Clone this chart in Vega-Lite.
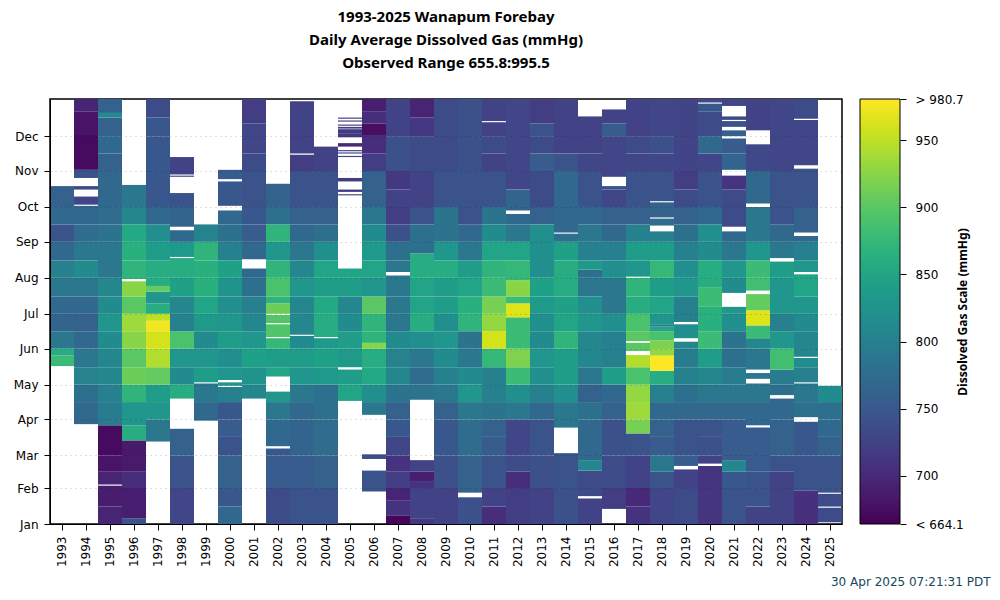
{"$schema":"https://vega.github.io/schema/vega-lite/v6.json","width":792,"height":425,"autosize":"none","padding":{"left":50,"top":99,"right":158,"bottom":76},"background":"white","title":{"text":["1993-2025 Wanapum Forebay","Daily Average Dissolved Gas (mmHg)","Observed Range 655.8:995.5"],"font":"Noto Sans","fontSize":15,"fontWeight":"bold","lineHeight":23,"anchor":"middle","offset":22,"color":"black"},"config":{"view":{"stroke":"black","strokeWidth":1.5},"font":"DejaVu Sans"},"data":{"values":[
{"yr":1993,"a":136,"b":145,"v":880},{"yr":1993,"a":145,"b":151,"v":860},{"yr":1993,"a":151,"b":166,"v":790},{"yr":1993,"a":166,"b":181,"v":765},{"yr":1993,"a":181,"b":196,"v":770},{"yr":1993,"a":196,"b":212,"v":790},{"yr":1993,"a":212,"b":227,"v":800},{"yr":1993,"a":227,"b":243,"v":770},{"yr":1993,"a":243,"b":258,"v":745},{"yr":1993,"a":258,"b":273,"v":770},{"yr":1993,"a":273,"b":291,"v":760},
{"yr":1994,"a":86,"b":105,"v":770},{"yr":1994,"a":105,"b":120,"v":780},{"yr":1994,"a":120,"b":135,"v":805},{"yr":1994,"a":135,"b":151,"v":790},{"yr":1994,"a":151,"b":166,"v":770},{"yr":1994,"a":166,"b":181,"v":760},{"yr":1994,"a":181,"b":196,"v":770},{"yr":1994,"a":196,"b":212,"v":790},{"yr":1994,"a":212,"b":227,"v":815},{"yr":1994,"a":227,"b":243,"v":790},{"yr":1994,"a":243,"b":258,"v":775},{"yr":1994,"a":258,"b":274,"v":770},{"yr":1994,"a":275,"b":282,"v":730},{"yr":1994,"a":288,"b":291,"v":735},{"yr":1994,"a":298,"b":305,"v":745},{"yr":1994,"a":305,"b":335,"v":672},{"yr":1994,"a":335,"b":355,"v":680},{"yr":1994,"a":355,"b":366,"v":695},
{"yr":1995,"a":0,"b":15,"v":695},{"yr":1995,"a":15,"b":33,"v":688},{"yr":1995,"a":34,"b":45,"v":695},{"yr":1995,"a":45,"b":59,"v":680},{"yr":1995,"a":59,"b":85,"v":672},{"yr":1995,"a":85,"b":105,"v":795},{"yr":1995,"a":105,"b":120,"v":800},{"yr":1995,"a":120,"b":135,"v":810},{"yr":1995,"a":135,"b":151,"v":810},{"yr":1995,"a":151,"b":166,"v":815},{"yr":1995,"a":166,"b":181,"v":830},{"yr":1995,"a":181,"b":196,"v":815},{"yr":1995,"a":196,"b":212,"v":810},{"yr":1995,"a":212,"b":243,"v":790},{"yr":1995,"a":243,"b":258,"v":785},{"yr":1995,"a":258,"b":273,"v":775},{"yr":1995,"a":273,"b":304,"v":770},{"yr":1995,"a":304,"b":319,"v":760},{"yr":1995,"a":319,"b":334,"v":770},{"yr":1995,"a":334,"b":350,"v":760},{"yr":1995,"a":350,"b":354,"v":815},{"yr":1995,"a":354,"b":366,"v":760},
{"yr":1996,"a":0,"b":5,"v":745},{"yr":1996,"a":5,"b":31,"v":690},{"yr":1996,"a":31,"b":45,"v":705},{"yr":1996,"a":45,"b":72,"v":685},{"yr":1996,"a":72,"b":85,"v":860},{"yr":1996,"a":85,"b":105,"v":830},{"yr":1996,"a":105,"b":120,"v":870},{"yr":1996,"a":120,"b":135,"v":910},{"yr":1996,"a":135,"b":151,"v":900},{"yr":1996,"a":151,"b":166,"v":925},{"yr":1996,"a":166,"b":181,"v":935},{"yr":1996,"a":181,"b":196,"v":900},{"yr":1996,"a":196,"b":209,"v":925},{"yr":1996,"a":211,"b":227,"v":870},{"yr":1996,"a":227,"b":243,"v":865},{"yr":1996,"a":243,"b":258,"v":855},{"yr":1996,"a":258,"b":273,"v":810},{"yr":1996,"a":273,"b":292,"v":790},
{"yr":1997,"a":71,"b":90,"v":790},{"yr":1997,"a":90,"b":105,"v":830},{"yr":1997,"a":105,"b":120,"v":840},{"yr":1997,"a":120,"b":135,"v":905},{"yr":1997,"a":135,"b":151,"v":945},{"yr":1997,"a":151,"b":166,"v":960},{"yr":1997,"a":166,"b":175,"v":975},{"yr":1997,"a":175,"b":181,"v":950},{"yr":1997,"a":181,"b":190,"v":860},{"yr":1997,"a":190,"b":200,"v":830},{"yr":1997,"a":200,"b":205,"v":905},{"yr":1997,"a":205,"b":212,"v":860},{"yr":1997,"a":212,"b":227,"v":860},{"yr":1997,"a":227,"b":243,"v":840},{"yr":1997,"a":243,"b":258,"v":820},{"yr":1997,"a":258,"b":273,"v":770},{"yr":1997,"a":273,"b":334,"v":750},{"yr":1997,"a":334,"b":350,"v":750},{"yr":1997,"a":350,"b":366,"v":735},
{"yr":1998,"a":0,"b":31,"v":730},{"yr":1998,"a":31,"b":59,"v":745},{"yr":1998,"a":59,"b":82,"v":760},{"yr":1998,"a":108,"b":120,"v":860},{"yr":1998,"a":120,"b":135,"v":815},{"yr":1998,"a":135,"b":151,"v":830},{"yr":1998,"a":151,"b":166,"v":890},{"yr":1998,"a":166,"b":181,"v":800},{"yr":1998,"a":181,"b":196,"v":810},{"yr":1998,"a":196,"b":212,"v":845},{"yr":1998,"a":212,"b":229,"v":860},{"yr":1998,"a":230,"b":243,"v":835},{"yr":1998,"a":243,"b":253,"v":770},{"yr":1998,"a":256,"b":273,"v":765},{"yr":1998,"a":273,"b":285,"v":745},{"yr":1998,"a":299,"b":300,"v":735},{"yr":1998,"a":301,"b":316,"v":725},
{"yr":1999,"a":89,"b":105,"v":770},{"yr":1999,"a":105,"b":121,"v":790},{"yr":1999,"a":122,"b":135,"v":840},{"yr":1999,"a":135,"b":151,"v":830},{"yr":1999,"a":151,"b":166,"v":815},{"yr":1999,"a":166,"b":181,"v":835},{"yr":1999,"a":181,"b":196,"v":850},{"yr":1999,"a":196,"b":212,"v":865},{"yr":1999,"a":212,"b":227,"v":865},{"yr":1999,"a":227,"b":243,"v":870},{"yr":1999,"a":243,"b":258,"v":805},
{"yr":2000,"a":0,"b":15,"v":770},{"yr":2000,"a":15,"b":31,"v":750},{"yr":2000,"a":31,"b":59,"v":760},{"yr":2000,"a":59,"b":75,"v":745},{"yr":2000,"a":75,"b":90,"v":755},{"yr":2000,"a":90,"b":105,"v":750},{"yr":2000,"a":105,"b":118,"v":800},{"yr":2000,"a":119,"b":122,"v":830},{"yr":2000,"a":124,"b":135,"v":830},{"yr":2000,"a":135,"b":151,"v":820},{"yr":2000,"a":151,"b":166,"v":840},{"yr":2000,"a":166,"b":181,"v":830},{"yr":2000,"a":181,"b":196,"v":820},{"yr":2000,"a":196,"b":212,"v":825},{"yr":2000,"a":212,"b":227,"v":845},{"yr":2000,"a":227,"b":243,"v":800},{"yr":2000,"a":243,"b":258,"v":780},{"yr":2000,"a":258,"b":270,"v":770},{"yr":2000,"a":274,"b":295,"v":750},{"yr":2000,"a":297,"b":305,"v":755},
{"yr":2001,"a":108,"b":120,"v":810},{"yr":2001,"a":120,"b":135,"v":825},{"yr":2001,"a":135,"b":151,"v":845},{"yr":2001,"a":151,"b":166,"v":830},{"yr":2001,"a":166,"b":181,"v":810},{"yr":2001,"a":181,"b":196,"v":800},{"yr":2001,"a":196,"b":212,"v":780},{"yr":2001,"a":212,"b":220,"v":770},{"yr":2001,"a":228,"b":243,"v":770},{"yr":2001,"a":243,"b":258,"v":755},{"yr":2001,"a":258,"b":273,"v":750},{"yr":2001,"a":273,"b":304,"v":745},{"yr":2001,"a":304,"b":319,"v":735},{"yr":2001,"a":319,"b":345,"v":730},{"yr":2001,"a":345,"b":366,"v":720},
{"yr":2002,"a":0,"b":31,"v":735},{"yr":2002,"a":31,"b":59,"v":755},{"yr":2002,"a":59,"b":65,"v":750},{"yr":2002,"a":67,"b":90,"v":770},{"yr":2002,"a":90,"b":105,"v":790},{"yr":2002,"a":105,"b":114,"v":830},{"yr":2002,"a":127,"b":135,"v":850},{"yr":2002,"a":135,"b":151,"v":840},{"yr":2002,"a":151,"b":160,"v":875},{"yr":2002,"a":161,"b":172,"v":895},{"yr":2002,"a":173,"b":180,"v":895},{"yr":2002,"a":181,"b":190,"v":910},{"yr":2002,"a":190,"b":196,"v":870},{"yr":2002,"a":196,"b":212,"v":890},{"yr":2002,"a":212,"b":227,"v":870},{"yr":2002,"a":227,"b":243,"v":830},{"yr":2002,"a":243,"b":258,"v":870},{"yr":2002,"a":258,"b":273,"v":780},{"yr":2002,"a":273,"b":293,"v":760},
{"yr":2003,"a":0,"b":31,"v":745},{"yr":2003,"a":31,"b":59,"v":755},{"yr":2003,"a":59,"b":90,"v":765},{"yr":2003,"a":90,"b":105,"v":770},{"yr":2003,"a":105,"b":120,"v":790},{"yr":2003,"a":120,"b":135,"v":830},{"yr":2003,"a":135,"b":151,"v":840},{"yr":2003,"a":151,"b":162,"v":815},{"yr":2003,"a":163,"b":181,"v":810},{"yr":2003,"a":181,"b":196,"v":810},{"yr":2003,"a":196,"b":212,"v":830},{"yr":2003,"a":212,"b":227,"v":810},{"yr":2003,"a":227,"b":243,"v":790},{"yr":2003,"a":243,"b":258,"v":770},{"yr":2003,"a":258,"b":273,"v":760},{"yr":2003,"a":273,"b":304,"v":745},{"yr":2003,"a":304,"b":318,"v":720},{"yr":2003,"a":319,"b":364,"v":725},
{"yr":2004,"a":0,"b":31,"v":745},{"yr":2004,"a":31,"b":59,"v":760},{"yr":2004,"a":59,"b":90,"v":775},{"yr":2004,"a":90,"b":120,"v":780},{"yr":2004,"a":120,"b":135,"v":835},{"yr":2004,"a":135,"b":151,"v":845},{"yr":2004,"a":151,"b":160,"v":835},{"yr":2004,"a":161,"b":181,"v":860},{"yr":2004,"a":181,"b":196,"v":855},{"yr":2004,"a":196,"b":212,"v":840},{"yr":2004,"a":212,"b":227,"v":850},{"yr":2004,"a":227,"b":243,"v":820},{"yr":2004,"a":243,"b":258,"v":780},{"yr":2004,"a":258,"b":273,"v":760},{"yr":2004,"a":273,"b":304,"v":745},{"yr":2004,"a":304,"b":325,"v":725},
{"yr":2005,"a":106,"b":120,"v":850},{"yr":2005,"a":120,"b":133,"v":840},{"yr":2005,"a":135,"b":151,"v":835},{"yr":2005,"a":151,"b":166,"v":840},{"yr":2005,"a":166,"b":181,"v":815},{"yr":2005,"a":181,"b":196,"v":810},{"yr":2005,"a":196,"b":212,"v":840},{"yr":2005,"a":212,"b":220,"v":850},{"yr":2005,"a":283,"b":284,"v":725},{"yr":2005,"a":286,"b":288,"v":715},{"yr":2005,"a":295,"b":298,"v":720},{"yr":2005,"a":316,"b":317,"v":725},{"yr":2005,"a":319,"b":320,"v":730},{"yr":2005,"a":321,"b":322,"v":725},{"yr":2005,"a":325,"b":328,"v":700},{"yr":2005,"a":333,"b":336,"v":715},{"yr":2005,"a":336,"b":340,"v":715},{"yr":2005,"a":340.5,"b":342,"v":720},{"yr":2005,"a":343,"b":344,"v":720},{"yr":2005,"a":346.5,"b":347.5,"v":720},{"yr":2005,"a":349,"b":350,"v":715},
{"yr":2006,"a":28,"b":46,"v":745},{"yr":2006,"a":56,"b":60,"v":740},{"yr":2006,"a":94,"b":105,"v":790},{"yr":2006,"a":105,"b":120,"v":820},{"yr":2006,"a":120,"b":135,"v":855},{"yr":2006,"a":135,"b":151,"v":860},{"yr":2006,"a":151,"b":156,"v":925},{"yr":2006,"a":156,"b":166,"v":870},{"yr":2006,"a":166,"b":181,"v":870},{"yr":2006,"a":181,"b":196,"v":900},{"yr":2006,"a":196,"b":212,"v":830},{"yr":2006,"a":212,"b":227,"v":850},{"yr":2006,"a":227,"b":243,"v":835},{"yr":2006,"a":243,"b":258,"v":815},{"yr":2006,"a":258,"b":273,"v":790},{"yr":2006,"a":273,"b":304,"v":760},{"yr":2006,"a":304,"b":319,"v":720},{"yr":2006,"a":319,"b":335,"v":705},{"yr":2006,"a":335,"b":345,"v":675},{"yr":2006,"a":345,"b":355,"v":705},{"yr":2006,"a":355,"b":366,"v":690},
{"yr":2007,"a":0,"b":7,"v":668},{"yr":2007,"a":7,"b":20,"v":710},{"yr":2007,"a":20,"b":31,"v":695},{"yr":2007,"a":31,"b":45,"v":720},{"yr":2007,"a":45,"b":59,"v":710},{"yr":2007,"a":59,"b":75,"v":730},{"yr":2007,"a":75,"b":90,"v":750},{"yr":2007,"a":90,"b":105,"v":760},{"yr":2007,"a":105,"b":120,"v":785},{"yr":2007,"a":120,"b":135,"v":810},{"yr":2007,"a":135,"b":151,"v":805},{"yr":2007,"a":151,"b":166,"v":815},{"yr":2007,"a":166,"b":181,"v":790},{"yr":2007,"a":181,"b":196,"v":790},{"yr":2007,"a":196,"b":214,"v":790},{"yr":2007,"a":217,"b":227,"v":790},{"yr":2007,"a":227,"b":243,"v":780},{"yr":2007,"a":243,"b":258,"v":740},{"yr":2007,"a":258,"b":273,"v":720},{"yr":2007,"a":273,"b":288,"v":725},{"yr":2007,"a":288,"b":304,"v":715},{"yr":2007,"a":304,"b":334,"v":740},{"yr":2007,"a":334,"b":366,"v":725},
{"yr":2008,"a":0,"b":5,"v":715},{"yr":2008,"a":5,"b":31,"v":725},{"yr":2008,"a":31,"b":37,"v":710},{"yr":2008,"a":37,"b":45,"v":690},{"yr":2008,"a":45,"b":55,"v":725},{"yr":2008,"a":107,"b":120,"v":785},{"yr":2008,"a":120,"b":135,"v":775},{"yr":2008,"a":135,"b":151,"v":790},{"yr":2008,"a":151,"b":166,"v":820},{"yr":2008,"a":166,"b":181,"v":860},{"yr":2008,"a":181,"b":196,"v":850},{"yr":2008,"a":196,"b":212,"v":850},{"yr":2008,"a":212,"b":233,"v":860},{"yr":2008,"a":233,"b":258,"v":780},{"yr":2008,"a":258,"b":273,"v":745},{"yr":2008,"a":273,"b":304,"v":725},{"yr":2008,"a":304,"b":334,"v":735},{"yr":2008,"a":334,"b":350,"v":715},{"yr":2008,"a":350,"b":366,"v":695},
{"yr":2009,"a":0,"b":31,"v":725},{"yr":2009,"a":31,"b":59,"v":740},{"yr":2009,"a":59,"b":90,"v":750},{"yr":2009,"a":90,"b":105,"v":760},{"yr":2009,"a":105,"b":120,"v":790},{"yr":2009,"a":120,"b":135,"v":800},{"yr":2009,"a":135,"b":151,"v":815},{"yr":2009,"a":151,"b":166,"v":830},{"yr":2009,"a":166,"b":181,"v":820},{"yr":2009,"a":181,"b":196,"v":840},{"yr":2009,"a":196,"b":212,"v":840},{"yr":2009,"a":212,"b":227,"v":860},{"yr":2009,"a":227,"b":243,"v":830},{"yr":2009,"a":243,"b":273,"v":785},{"yr":2009,"a":273,"b":304,"v":745},{"yr":2009,"a":304,"b":366,"v":735},
{"yr":2010,"a":0,"b":23,"v":740},{"yr":2010,"a":27,"b":59,"v":760},{"yr":2010,"a":59,"b":90,"v":775},{"yr":2010,"a":90,"b":105,"v":790},{"yr":2010,"a":105,"b":120,"v":830},{"yr":2010,"a":120,"b":135,"v":815},{"yr":2010,"a":135,"b":151,"v":790},{"yr":2010,"a":151,"b":166,"v":785},{"yr":2010,"a":166,"b":181,"v":870},{"yr":2010,"a":181,"b":196,"v":865},{"yr":2010,"a":196,"b":212,"v":850},{"yr":2010,"a":212,"b":227,"v":840},{"yr":2010,"a":227,"b":243,"v":790},{"yr":2010,"a":243,"b":258,"v":770},{"yr":2010,"a":258,"b":304,"v":745},{"yr":2010,"a":304,"b":366,"v":740},
{"yr":2011,"a":0,"b":15,"v":705},{"yr":2011,"a":15,"b":31,"v":725},{"yr":2011,"a":31,"b":59,"v":745},{"yr":2011,"a":59,"b":75,"v":755},{"yr":2011,"a":75,"b":90,"v":760},{"yr":2011,"a":90,"b":105,"v":785},{"yr":2011,"a":105,"b":135,"v":800},{"yr":2011,"a":135,"b":151,"v":875},{"yr":2011,"a":151,"b":166,"v":960},{"yr":2011,"a":166,"b":181,"v":930},{"yr":2011,"a":181,"b":196,"v":915},{"yr":2011,"a":196,"b":212,"v":880},{"yr":2011,"a":212,"b":227,"v":870},{"yr":2011,"a":227,"b":243,"v":850},{"yr":2011,"a":243,"b":258,"v":815},{"yr":2011,"a":258,"b":273,"v":785},{"yr":2011,"a":273,"b":304,"v":745},{"yr":2011,"a":304,"b":319,"v":725},{"yr":2011,"a":319,"b":334,"v":735},{"yr":2011,"a":334,"b":346,"v":725},{"yr":2011,"a":347,"b":366,"v":725},
{"yr":2012,"a":0,"b":31,"v":720},{"yr":2012,"a":31,"b":45,"v":705},{"yr":2012,"a":45,"b":59,"v":735},{"yr":2012,"a":59,"b":90,"v":730},{"yr":2012,"a":90,"b":105,"v":790},{"yr":2012,"a":105,"b":120,"v":820},{"yr":2012,"a":120,"b":135,"v":880},{"yr":2012,"a":135,"b":151,"v":920},{"yr":2012,"a":151,"b":178,"v":880},{"yr":2012,"a":178,"b":190,"v":965},{"yr":2012,"a":190,"b":196,"v":880},{"yr":2012,"a":196,"b":210,"v":925},{"yr":2012,"a":210,"b":227,"v":875},{"yr":2012,"a":227,"b":243,"v":850},{"yr":2012,"a":243,"b":258,"v":790},{"yr":2012,"a":258,"b":267,"v":770},{"yr":2012,"a":270,"b":288,"v":765},{"yr":2012,"a":288,"b":366,"v":730},
{"yr":2013,"a":0,"b":31,"v":725},{"yr":2013,"a":31,"b":59,"v":740},{"yr":2013,"a":59,"b":90,"v":745},{"yr":2013,"a":90,"b":105,"v":770},{"yr":2013,"a":105,"b":120,"v":800},{"yr":2013,"a":120,"b":135,"v":820},{"yr":2013,"a":135,"b":151,"v":830},{"yr":2013,"a":151,"b":166,"v":815},{"yr":2013,"a":166,"b":181,"v":820},{"yr":2013,"a":181,"b":196,"v":835},{"yr":2013,"a":196,"b":212,"v":845},{"yr":2013,"a":212,"b":258,"v":820},{"yr":2013,"a":258,"b":273,"v":760},{"yr":2013,"a":273,"b":304,"v":735},{"yr":2013,"a":304,"b":319,"v":755},{"yr":2013,"a":319,"b":334,"v":735},{"yr":2013,"a":334,"b":345,"v":745},{"yr":2013,"a":345,"b":366,"v":720},
{"yr":2014,"a":0,"b":31,"v":740},{"yr":2014,"a":31,"b":61,"v":745},{"yr":2014,"a":83,"b":105,"v":790},{"yr":2014,"a":105,"b":120,"v":820},{"yr":2014,"a":120,"b":151,"v":840},{"yr":2014,"a":151,"b":166,"v":870},{"yr":2014,"a":166,"b":181,"v":850},{"yr":2014,"a":181,"b":196,"v":845},{"yr":2014,"a":196,"b":227,"v":860},{"yr":2014,"a":227,"b":243,"v":845},{"yr":2014,"a":243,"b":250,"v":780},{"yr":2014,"a":251,"b":273,"v":770},{"yr":2014,"a":273,"b":304,"v":770},{"yr":2014,"a":304,"b":319,"v":745},{"yr":2014,"a":319,"b":366,"v":725},
{"yr":2015,"a":0,"b":22,"v":725},{"yr":2015,"a":24,"b":46,"v":735},{"yr":2015,"a":46,"b":55,"v":810},{"yr":2015,"a":55,"b":90,"v":770},{"yr":2015,"a":90,"b":105,"v":780},{"yr":2015,"a":105,"b":120,"v":760},{"yr":2015,"a":120,"b":135,"v":790},{"yr":2015,"a":135,"b":166,"v":810},{"yr":2015,"a":166,"b":181,"v":830},{"yr":2015,"a":181,"b":196,"v":820},{"yr":2015,"a":196,"b":212,"v":790},{"yr":2015,"a":212,"b":219,"v":780},{"yr":2015,"a":219,"b":227,"v":835},{"yr":2015,"a":227,"b":243,"v":800},{"yr":2015,"a":243,"b":258,"v":790},{"yr":2015,"a":258,"b":273,"v":770},{"yr":2015,"a":273,"b":304,"v":745},{"yr":2015,"a":304,"b":319,"v":730},{"yr":2015,"a":319,"b":351,"v":725},
{"yr":2016,"a":13,"b":31,"v":720},{"yr":2016,"a":31,"b":59,"v":735},{"yr":2016,"a":59,"b":90,"v":740},{"yr":2016,"a":90,"b":105,"v":760},{"yr":2016,"a":105,"b":120,"v":770},{"yr":2016,"a":120,"b":135,"v":840},{"yr":2016,"a":135,"b":166,"v":800},{"yr":2016,"a":166,"b":181,"v":820},{"yr":2016,"a":181,"b":212,"v":790},{"yr":2016,"a":212,"b":227,"v":820},{"yr":2016,"a":227,"b":243,"v":800},{"yr":2016,"a":243,"b":258,"v":770},{"yr":2016,"a":258,"b":273,"v":760},{"yr":2016,"a":273,"b":288,"v":730},{"yr":2016,"a":288,"b":291,"v":745},{"yr":2016,"a":299,"b":334,"v":730},{"yr":2016,"a":334,"b":345,"v":755},{"yr":2016,"a":345,"b":357,"v":725},
{"yr":2017,"a":0,"b":15,"v":710},{"yr":2017,"a":15,"b":31,"v":700},{"yr":2017,"a":31,"b":59,"v":725},{"yr":2017,"a":59,"b":78,"v":745},{"yr":2017,"a":78,"b":90,"v":915},{"yr":2017,"a":90,"b":105,"v":935},{"yr":2017,"a":105,"b":120,"v":930},{"yr":2017,"a":120,"b":135,"v":890},{"yr":2017,"a":135,"b":145.5,"v":945},{"yr":2017,"a":149,"b":156,"v":900},{"yr":2017,"a":157.5,"b":166,"v":900},{"yr":2017,"a":166,"b":181,"v":890},{"yr":2017,"a":181,"b":196,"v":860},{"yr":2017,"a":196,"b":212,"v":870},{"yr":2017,"a":213,"b":227,"v":830},{"yr":2017,"a":227,"b":243,"v":840},{"yr":2017,"a":243,"b":258,"v":800},{"yr":2017,"a":258,"b":273,"v":760},{"yr":2017,"a":273,"b":304,"v":745},{"yr":2017,"a":304,"b":319,"v":730},{"yr":2017,"a":319,"b":334,"v":735},{"yr":2017,"a":334,"b":366,"v":725},
{"yr":2018,"a":0,"b":31,"v":730},{"yr":2018,"a":31,"b":45,"v":745},{"yr":2018,"a":45,"b":59,"v":790},{"yr":2018,"a":59,"b":75,"v":755},{"yr":2018,"a":75,"b":90,"v":760},{"yr":2018,"a":90,"b":105,"v":770},{"yr":2018,"a":105,"b":120,"v":800},{"yr":2018,"a":120,"b":132,"v":860},{"yr":2018,"a":132,"b":145,"v":980},{"yr":2018,"a":145,"b":150,"v":930},{"yr":2018,"a":150,"b":158,"v":920},{"yr":2018,"a":158,"b":166,"v":890},{"yr":2018,"a":166,"b":170,"v":850},{"yr":2018,"a":170,"b":172,"v":790},{"yr":2018,"a":172,"b":181,"v":830},{"yr":2018,"a":181,"b":196,"v":850},{"yr":2018,"a":196,"b":212,"v":840},{"yr":2018,"a":212,"b":227,"v":875},{"yr":2018,"a":227,"b":243,"v":840},{"yr":2018,"a":243,"b":252,"v":800},{"yr":2018,"a":257,"b":263,"v":775},{"yr":2018,"a":264,"b":277,"v":760},{"yr":2018,"a":278,"b":304,"v":745},{"yr":2018,"a":304,"b":319,"v":730},{"yr":2018,"a":319,"b":334,"v":740},{"yr":2018,"a":334,"b":366,"v":730},
{"yr":2019,"a":0,"b":31,"v":735},{"yr":2019,"a":31,"b":47,"v":725},{"yr":2019,"a":50,"b":59,"v":755},{"yr":2019,"a":59,"b":90,"v":745},{"yr":2019,"a":90,"b":105,"v":770},{"yr":2019,"a":105,"b":120,"v":780},{"yr":2019,"a":120,"b":135,"v":800},{"yr":2019,"a":135,"b":151,"v":795},{"yr":2019,"a":151,"b":157,"v":810},{"yr":2019,"a":160,"b":172,"v":820},{"yr":2019,"a":174,"b":196,"v":800},{"yr":2019,"a":196,"b":212,"v":830},{"yr":2019,"a":212,"b":227,"v":820},{"yr":2019,"a":227,"b":243,"v":800},{"yr":2019,"a":243,"b":258,"v":780},{"yr":2019,"a":258,"b":273,"v":760},{"yr":2019,"a":273,"b":288,"v":735},{"yr":2019,"a":288,"b":304,"v":720},{"yr":2019,"a":304,"b":366,"v":728},
{"yr":2020,"a":0,"b":50,"v":712},{"yr":2020,"a":52,"b":59,"v":725},{"yr":2020,"a":59,"b":75,"v":740},{"yr":2020,"a":75,"b":90,"v":745},{"yr":2020,"a":90,"b":105,"v":770},{"yr":2020,"a":105,"b":120,"v":790},{"yr":2020,"a":120,"b":135,"v":810},{"yr":2020,"a":135,"b":151,"v":840},{"yr":2020,"a":151,"b":166,"v":880},{"yr":2020,"a":166,"b":187,"v":865},{"yr":2020,"a":187,"b":204,"v":880},{"yr":2020,"a":204,"b":227,"v":860},{"yr":2020,"a":227,"b":243,"v":815},{"yr":2020,"a":243,"b":258,"v":820},{"yr":2020,"a":258,"b":273,"v":770},{"yr":2020,"a":273,"b":304,"v":745},{"yr":2020,"a":304,"b":319,"v":730},{"yr":2020,"a":319,"b":334,"v":770},{"yr":2020,"a":334,"b":355,"v":735},{"yr":2020,"a":355,"b":362,"v":750},{"yr":2020,"a":363,"b":366,"v":730},
{"yr":2021,"a":0,"b":31,"v":745},{"yr":2021,"a":31,"b":45,"v":750},{"yr":2021,"a":45,"b":55,"v":810},{"yr":2021,"a":55,"b":90,"v":755},{"yr":2021,"a":90,"b":105,"v":770},{"yr":2021,"a":105,"b":120,"v":790},{"yr":2021,"a":120,"b":135,"v":795},{"yr":2021,"a":135,"b":151,"v":780},{"yr":2021,"a":151,"b":166,"v":785},{"yr":2021,"a":166,"b":181,"v":820},{"yr":2021,"a":181,"b":187,"v":830},{"yr":2021,"a":199,"b":212,"v":815},{"yr":2021,"a":212,"b":227,"v":830},{"yr":2021,"a":227,"b":243,"v":790},{"yr":2021,"a":243,"b":252,"v":770},{"yr":2021,"a":256,"b":288,"v":735},{"yr":2021,"a":288,"b":300,"v":712},{"yr":2021,"a":305,"b":319,"v":765},{"yr":2021,"a":319,"b":332,"v":755},{"yr":2021,"a":334,"b":339,"v":760},{"yr":2021,"a":342,"b":347,"v":740},{"yr":2021,"a":348,"b":351,"v":735},{"yr":2021,"a":360,"b":366,"v":730},
{"yr":2022,"a":0,"b":15,"v":725},{"yr":2022,"a":15,"b":45,"v":745},{"yr":2022,"a":45,"b":83,"v":755},{"yr":2022,"a":85,"b":105,"v":770},{"yr":2022,"a":105,"b":121,"v":790},{"yr":2022,"a":125,"b":130,"v":790},{"yr":2022,"a":133,"b":151,"v":790},{"yr":2022,"a":151,"b":160,"v":810},{"yr":2022,"a":160,"b":171,"v":880},{"yr":2022,"a":171,"b":184,"v":965},{"yr":2022,"a":184,"b":198,"v":905},{"yr":2022,"a":201,"b":212,"v":885},{"yr":2022,"a":212,"b":227,"v":880},{"yr":2022,"a":227,"b":243,"v":830},{"yr":2022,"a":243,"b":273,"v":790},{"yr":2022,"a":276,"b":304,"v":770},{"yr":2022,"a":304,"b":327,"v":732},{"yr":2022,"a":339,"b":366,"v":725},
{"yr":2023,"a":0,"b":45,"v":725},{"yr":2023,"a":45,"b":59,"v":745},{"yr":2023,"a":59,"b":90,"v":760},{"yr":2023,"a":90,"b":108,"v":770},{"yr":2023,"a":111,"b":120,"v":780},{"yr":2023,"a":120,"b":133,"v":795},{"yr":2023,"a":133,"b":151,"v":885},{"yr":2023,"a":151,"b":166,"v":830},{"yr":2023,"a":166,"b":181,"v":800},{"yr":2023,"a":181,"b":212,"v":830},{"yr":2023,"a":212,"b":226,"v":840},{"yr":2023,"a":229,"b":243,"v":790},{"yr":2023,"a":243,"b":258,"v":770},{"yr":2023,"a":258,"b":304,"v":745},{"yr":2023,"a":304,"b":366,"v":730},
{"yr":2024,"a":0,"b":29,"v":708},{"yr":2024,"a":29,"b":59,"v":745},{"yr":2024,"a":59,"b":88,"v":750},{"yr":2024,"a":92,"b":105,"v":780},{"yr":2024,"a":105,"b":121,"v":790},{"yr":2024,"a":122,"b":135,"v":800},{"yr":2024,"a":135,"b":143,"v":815},{"yr":2024,"a":144,"b":166,"v":810},{"yr":2024,"a":166,"b":181,"v":815},{"yr":2024,"a":181,"b":196,"v":830},{"yr":2024,"a":196,"b":215,"v":850},{"yr":2024,"a":217,"b":227,"v":830},{"yr":2024,"a":227,"b":243,"v":800},{"yr":2024,"a":243,"b":248,"v":770},{"yr":2024,"a":251,"b":273,"v":760},{"yr":2024,"a":273,"b":306,"v":745},{"yr":2024,"a":309,"b":348,"v":730},{"yr":2024,"a":349,"b":366,"v":735},
{"yr":2025,"a":1.5,"b":14,"v":735},{"yr":2025,"a":15,"b":26,"v":735},{"yr":2025,"a":27,"b":59,"v":745},{"yr":2025,"a":59,"b":75,"v":760},{"yr":2025,"a":75,"b":90,"v":770},{"yr":2025,"a":90,"b":105,"v":780},{"yr":2025,"a":105,"b":119,"v":815}
]},"layer":[{"mark":{"type":"rect"},"encoding":{"x":{"field":"yr","type":"ordinal","scale":{"paddingInner":0,"paddingOuter":0},"axis":{"title":"www.cbr.washington.edu/dart","titleFont":"DejaVu Sans","titleFontSize":12,"titleFontWeight":"normal","titleColor":"#16475b","titleAlign":"left","titleAnchor":"start","titleX":-40,"titleY":482,"titleBaseline":"middle","labelAngle":-90,"labelFontSize":12,"labelColor":"black","labelAlign":"right","labelBaseline":"middle","labelPadding":6,"tickSize":6,"tickColor":"black","domainColor":"black","zindex":1,"grid":false}},"y":{"field":"a","type":"quantitative","scale":{"domain":[0,366],"nice":false},"axis":{"title":"30 Apr 2025 07:21:31 PDT","titleFont":"DejaVu Sans","titleFontSize":12,"titleFontWeight":"normal","titleColor":"#16475b","titleAngle":0,"titleAlign":"right","titleAnchor":"start","titleX":940,"titleY":482,"titleBaseline":"middle","values":[0,31,59,90,120,151,181,212,243,273,304,334],"labelExpr":"['Jan','Feb','Mar','Apr','May','Jun','Jul','Aug','Sep','Oct','Nov','Dec'][indexof([0,31,59,90,120,151,181,212,243,273,304,334],datum.value)]","labelFontSize":12,"labelColor":"black","labelPadding":6,"tickSize":6,"tickColor":"black","domainColor":"black","grid":true,"gridDash":[1,4],"gridColor":"black","gridOpacity":0.25,"zindex":1}},"y2":{"field":"b"},"color":{"field":"v","type":"quantitative","scale":{"scheme":"viridis","domain":[664.1,980.7],"clamp":true},"legend":{"title":null,"orient":"none","legendX":810,"legendY":0,"direction":"vertical","gradientLength":425,"gradientThickness":40,"gradientStrokeColor":"black","gradientStrokeWidth":1,"labelExpr":"''","values":[664.1,980.7]}}}},{"mark":{"type":"point","opacity":0},"encoding":{"y":{"field":"v","type":"quantitative","scale":{"domain":[664.1,980.7],"nice":false,"zero":false},"axis":{"orient":"right","offset":58,"title":"Dissolved Gas Scale (mmHg)","titleFont":"Noto Sans","titleFontSize":12,"titleFontWeight":"bold","titleColor":"black","titleAngle":270,"titlePadding":6,"values":[664.1,700,750,800,850,900,950,980.7],"labelExpr":"datum.value==664.1?'< 664.1':datum.value==980.7?'> 980.7':datum.label","labelFontSize":12,"labelColor":"black","labelPadding":9,"labelBound":false,"labelOverlap":false,"tickSize":6,"tickColor":"black","domain":false,"grid":false}}}}],"resolve":{"scale":{"y":"independent"}}}
